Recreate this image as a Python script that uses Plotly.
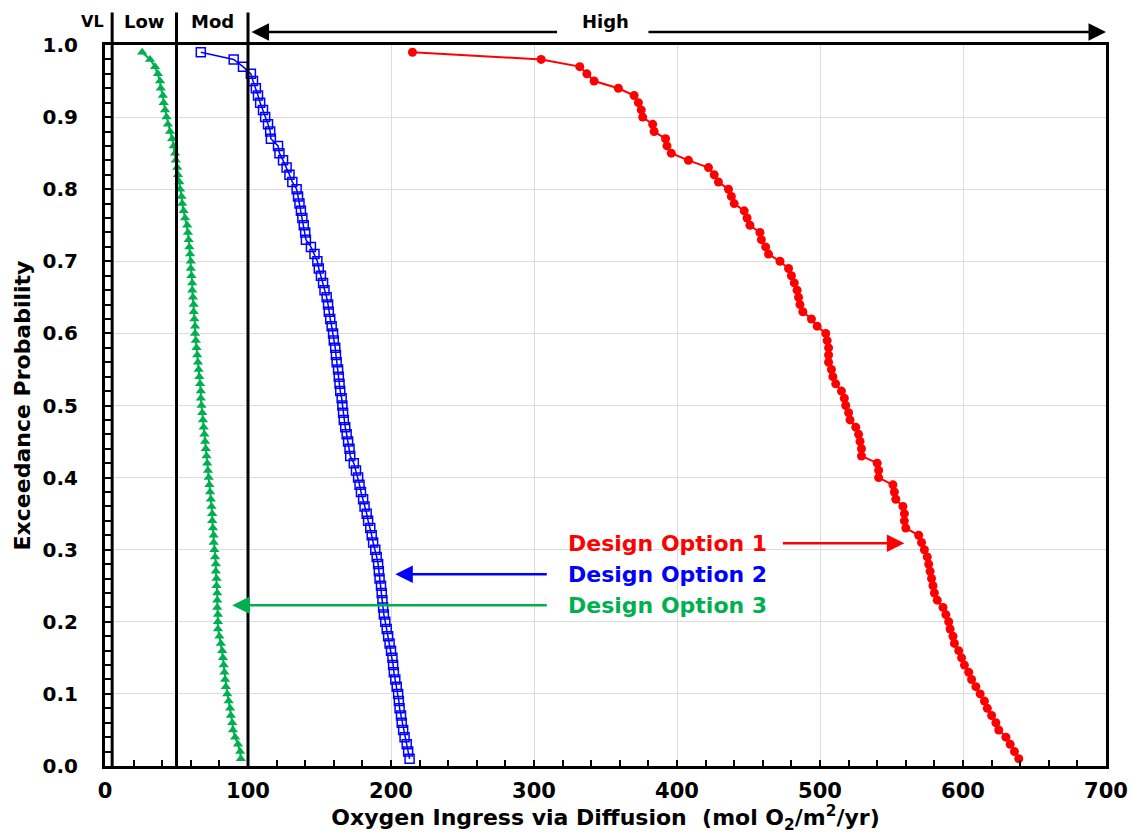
import plotly.graph_objects as go

# Exceedance probability of each ranked result
exceedance = [0.99, 0.98, 0.97, 0.96, 0.95, 0.94, 0.93, 0.92, 0.91, 0.90,
              0.89, 0.88, 0.87, 0.86, 0.85, 0.84, 0.83, 0.82, 0.81, 0.80,
              0.79, 0.78, 0.77, 0.76, 0.75, 0.74, 0.73, 0.72, 0.71, 0.70,
              0.69, 0.68, 0.67, 0.66, 0.65, 0.64, 0.63, 0.62, 0.61, 0.60,
              0.59, 0.58, 0.57, 0.56, 0.55, 0.54, 0.53, 0.52, 0.51, 0.50,
              0.49, 0.48, 0.47, 0.46, 0.45, 0.44, 0.43, 0.42, 0.41, 0.40,
              0.39, 0.38, 0.37, 0.36, 0.35, 0.34, 0.33, 0.32, 0.31, 0.30,
              0.29, 0.28, 0.27, 0.26, 0.25, 0.24, 0.23, 0.22, 0.21, 0.20,
              0.19, 0.18, 0.17, 0.16, 0.15, 0.14, 0.13, 0.12, 0.11, 0.10,
              0.09, 0.08, 0.07, 0.06, 0.05, 0.04, 0.03, 0.02, 0.01]

# Oxygen ingress (mol O2/m2/yr) for each design option
option1 = [215, 305, 332, 337, 342, 359, 370, 373, 375, 376,
           383, 384, 392, 393, 396, 408, 422, 426, 429, 436,
           438, 440, 447, 449, 451, 458, 459, 462, 464, 472,
           478, 480, 482, 484, 485, 486, 488, 494, 498, 504,
           505, 506, 506, 506, 508, 509, 511, 515, 517, 518,
           520, 521, 525, 527, 528, 529, 529, 540, 541, 541,
           551, 552, 553, 558, 559, 559, 560, 569, 571, 573,
           575, 576, 577, 578, 579, 580, 582, 586, 588, 590,
           591, 593, 594, 597, 599, 601, 604, 606, 609, 612,
           615, 617, 620, 623, 625, 630, 633, 636, 639]

option2 = [67, 90, 96.5, 102, 103.5, 105.5, 107, 108.5, 110.5, 112,
           114, 115.5, 116, 121, 122, 124.5, 127, 129, 131, 134,
           135, 136, 137, 138, 139, 140, 140.5, 144, 146.5, 148.5,
           149.5, 151, 152.5, 153.5, 155, 156, 156.5, 157.5, 158.5, 159.5,
           160, 161, 161.5, 162, 163, 163.5, 164, 164.5, 165.5, 166,
           166.5, 167, 168, 169, 170, 171, 171.5, 174, 175.5, 177,
           178, 179, 180.5, 181.5, 183, 184, 185.5, 186.5, 187.5, 189,
           190, 191, 191.5, 192, 193, 193.5, 194, 194.5, 195, 196,
           197, 198, 199, 200, 201, 201.5, 202, 203, 204, 205,
           205.5, 206, 207, 207.5, 208.5, 209.5, 211, 212, 213]

option3 = [26, 31.5, 35, 37, 38.5, 39, 40.5, 41, 42, 43,
           44, 45.5, 47, 48, 49, 49.5, 50.5, 51, 52, 52.5,
           53.5, 54, 55, 56, 57.5, 58, 58.5, 59, 59.5, 60,
           60, 60.5, 61, 61, 61.5, 62, 62, 62.5, 63, 63,
           63.5, 64, 64.5, 65, 65.5, 66, 66.5, 67, 67, 67.5,
           68, 68.5, 69, 69.5, 70, 70.5, 71, 71.5, 72, 72.5,
           73, 73.5, 74, 74.5, 75, 75, 75.5, 76, 76, 76.5,
           77, 77.5, 77.5, 78, 78, 78.5, 78.5, 78.5, 79, 79,
           79, 80, 81, 82, 82.5, 83, 83.5, 84, 84.5, 85.5,
           86.5, 87.5, 88, 89, 89.5, 91, 93, 94.5, 95]

# Ingress class boundaries and labels (label positions as plot-width fractions)
class_bounds = [5, 50, 100]
class_labels = ["VL", "Low", "Mod", "High"]
class_label_pos = [-0.012, 0.039, 0.107, 0.5]

RED, BLUE, GREEN = "#FF0000", "#0000FF", "#00B050"
FONT = "DejaVu Sans"

fig = go.Figure()
fig.add_trace(go.Scatter(x=option1, y=exceedance, mode="lines+markers",
                         line=dict(color=RED, width=2),
                         marker=dict(symbol="circle", size=9, color=RED),
                         name="Design Option 1"))
fig.add_trace(go.Scatter(x=option2, y=exceedance, mode="lines+markers",
                         line=dict(color=BLUE, width=1.5),
                         marker=dict(symbol="square-open", size=9, color=BLUE,
                                     line=dict(width=1.5)),
                         name="Design Option 2"))
fig.add_trace(go.Scatter(x=option3, y=exceedance, mode="lines+markers",
                         line=dict(color=GREEN, width=2),
                         marker=dict(symbol="triangle-up", size=9, color=GREEN),
                         name="Design Option 3"))

# Vertical class boundaries, extending above the frame
for xb in class_bounds:
    fig.add_shape(type="line", xref="x", yref="paper", x0=xb, x1=xb,
                  y0=0, y1=1.045, line=dict(color="black", width=3))

# Class labels
for lab, lx in zip(class_labels, class_label_pos):
    fig.add_annotation(x=lx, y=1.033, xref="paper", yref="paper", text=lab,
                       showarrow=False, xanchor="center", yanchor="middle",
                       font=dict(family=FONT, size=18 if lab != "VL" else 16,
                                 color="black", weight="bold"),
                       bgcolor="white" if lab == "High" else None)

# Double-headed "High" arrow split around its label
arrow_y = 1.018
fig.add_annotation(x=102.5, y=arrow_y, xref="x", yref="paper", text="",
                   showarrow=True, ax=307, ay=0, axref="pixel", ayref="pixel",
                   arrowhead=2, arrowsize=1.4, arrowwidth=2.5, arrowcolor="black")
fig.add_annotation(x=700, y=arrow_y, xref="x", yref="paper", text="",
                   showarrow=True, ax=-459, ay=0, axref="pixel", ayref="pixel",
                   arrowhead=2, arrowsize=1.4, arrowwidth=2.5, arrowcolor="black")

# Series labels with pointer arrows
labels = [("Design Option 1", RED, 0.309), ("Design Option 2", BLUE, 0.266),
          ("Design Option 3", GREEN, 0.223)]
for text, col, yy in labels:
    fig.add_annotation(x=464, y=yy, xref="x", yref="y", text=text,
                       showarrow=False, xanchor="right", yanchor="middle",
                       font=dict(family=FONT, size=22, color=col, weight="bold"))

pointers = [(559, 0.309, -123, RED), (203, 0.266, 153, BLUE), (89, 0.223, 316, GREEN)]
for hx, yy, dx, col in pointers:
    fig.add_annotation(x=hx, y=yy, xref="x", yref="y", text="",
                       showarrow=True, ax=dx, ay=0, axref="pixel", ayref="pixel",
                       arrowhead=2, arrowsize=1.4, arrowwidth=2.5, arrowcolor=col)

axis_common = dict(showline=True, linewidth=3, linecolor="black", mirror=True,
                   ticks="inside", ticklen=6, tickwidth=1.5, tickcolor="black",
                   showgrid=True, gridcolor="#dcdcdc", gridwidth=1, zeroline=False)

fig.update_xaxes(range=[0, 700], dtick=100, tick0=0,
                 minor=dict(dtick=20, ticks="inside", ticklen=6, tickwidth=1.5,
                            tickcolor="black", showgrid=False),
                 ticklabelstandoff=4,
                 tickfont=dict(family=FONT, size=21, color="black", weight="bold"),
                 title=dict(text="Oxygen Ingress via Diffusion  (mol O<sub>2</sub>/m<sup>2</sup>/yr)",
                            font=dict(family=FONT, size=22, color="black", weight="bold"),
                            standoff=15),
                 **axis_common)
fig.update_yaxes(range=[0, 1], dtick=0.1, tick0=0, tickformat=".1f",
                 minor=dict(dtick=0.02, ticks="inside", ticklen=6, tickwidth=1.5,
                            tickcolor="black", showgrid=False),
                 ticklabelstandoff=20,
                 tickfont=dict(family=FONT, size=20, color="black", weight="bold"),
                 title=dict(text="Exceedance Probability",
                            font=dict(family=FONT, size=22, color="black", weight="bold"),
                            standoff=6),
                 **axis_common)

fig.update_layout(width=1132, height=834, showlegend=False,
                  margin=dict(l=105, r=26, t=45, b=68, autoexpand=False),
                  plot_bgcolor="white", paper_bgcolor="white")

fig.write_html("out.html")
